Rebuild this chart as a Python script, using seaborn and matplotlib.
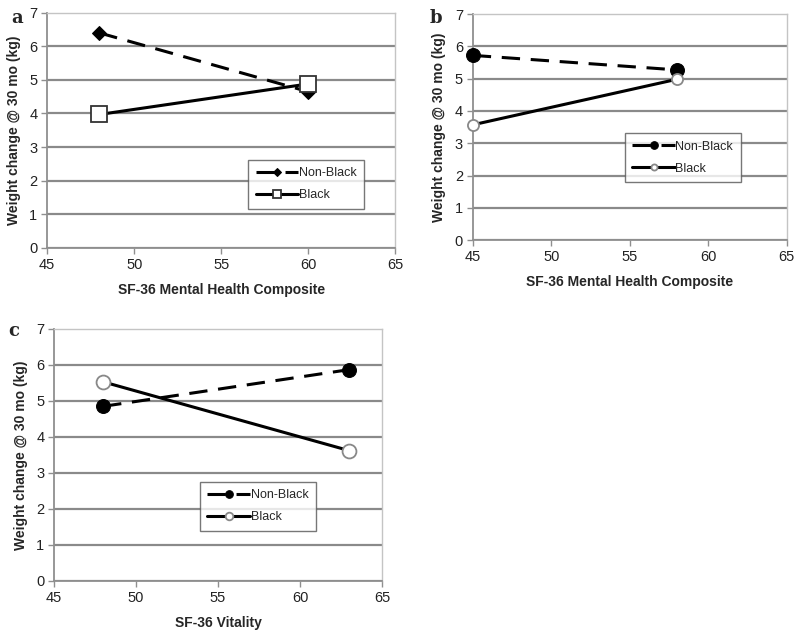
"""Weight change at 30 months by SF-36 score, Non-Black vs Black (panels a-c)."""

import matplotlib.pyplot as plt
import pandas as pd
import seaborn as sns

# panel a: SF-36 Mental Health Composite
a_x = [48, 60]
a_nonblack = [6.40, 4.65]
a_black = [3.97, 4.88]

# panel b: SF-36 Mental Health Composite
b_x = [45, 58]
b_nonblack = [5.72, 5.27]
b_black = [3.57, 4.98]

# panel c: SF-36 Vitality
c_x = [48, 63]
c_nonblack = [4.85, 5.87]
c_black = [5.53, 3.62]

groups = ["Non-Black", "Black"]
x_ticks = [45, 50, 55, 60, 65]
y_ticks = [0, 1, 2, 3, 4, 5, 6, 7]
y_label = "Weight change @ 30 mo (kg)"

sns.set_theme(style="white")
plt.rcParams["font.family"] = ["Liberation Sans", "DejaVu Sans"]

GRID = "#8a8a8a"
AXIS = "#8f8f8f"
BORDER = "#c4c4c4"


def make_df(x, nonblack, black):
    return pd.DataFrame({
        "x": x + x,
        "y": nonblack + black,
        "group": [groups[0]] * len(x) + [groups[1]] * len(x),
    })


def draw_panel(ax, df, xlabel, square, legend_anchor, open_size=10):
    nb = df[df["group"] == "Non-Black"]
    bl = df[df["group"] == "Black"]
    if square:
        nb_kw = dict(marker="D", markersize=7, markerfacecolor="black",
                     markeredgecolor="black")
        bl_kw = dict(marker="s", markersize=11, markerfacecolor="white",
                     markeredgecolor="#333333", markeredgewidth=1.3)
    else:
        nb_kw = dict(marker="o", markersize=10, markerfacecolor="black",
                     markeredgecolor="black")
        bl_kw = dict(marker="o", markersize=open_size, markerfacecolor="white",
                     markeredgecolor="#888888", markeredgewidth=1.3)

    sns.lineplot(data=nb, x="x", y="y", ax=ax, color="black", linewidth=2.2,
                 label="Non-Black", clip_on=False, zorder=3, **nb_kw)
    ax.lines[-1].set_dashes((6, 3.5))
    sns.lineplot(data=bl, x="x", y="y", ax=ax, color="black", linewidth=2.2,
                 label="Black", clip_on=False, zorder=3, **bl_kw)

    ax.set_xlim(45, 65)
    ax.set_ylim(0, 7)
    ax.set_xticks(x_ticks)
    ax.set_yticks(y_ticks)
    ax.yaxis.grid(True, color=GRID, linewidth=1.6)
    ax.get_ygridlines()[-1].set_visible(False)
    ax.set_axisbelow(True)
    for side in ["top", "right"]:
        ax.spines[side].set_color(BORDER)
        ax.spines[side].set_linewidth(1.0)
    for side in ["left", "bottom"]:
        ax.spines[side].set_color(AXIS)
        ax.spines[side].set_linewidth(1.3)
    ax.tick_params(axis="both", direction="out", length=4, width=1,
                   color=AXIS, labelsize=10.5, labelcolor="#222222", pad=3,
                   left=True, bottom=True)
    ax.set_xlabel(xlabel, fontsize=10, fontweight="bold", labelpad=8)
    ax.set_ylabel(y_label, fontsize=10, fontweight="bold", labelpad=6)

    leg = ax.legend(loc="upper left", bbox_to_anchor=legend_anchor,
                    borderaxespad=0, frameon=True, fancybox=False, fontsize=9,
                    handlelength=3.4, handletextpad=0.05, borderpad=0.6,
                    labelspacing=0.8, markerscale=0.55)
    leg.get_frame().set_edgecolor("#555555")
    leg.get_frame().set_linewidth(1.0)
    leg.set_zorder(5)


fig = plt.figure(figsize=(8, 6.37), dpi=100)
ax_a = fig.add_axes([0.059, 0.611, 0.435, 0.369])
ax_b = fig.add_axes([0.591, 0.623, 0.3925, 0.355])
ax_c = fig.add_axes([0.0675, 0.088, 0.41, 0.3956])

draw_panel(ax_a, make_df(a_x, a_nonblack, a_black),
           "SF-36 Mental Health Composite", True, (0.578, 0.374))
draw_panel(ax_b, make_df(b_x, b_nonblack, b_black),
           "SF-36 Mental Health Composite", False, (0.484, 0.473), open_size=8)
draw_panel(ax_c, make_df(c_x, c_nonblack, c_black),
           "SF-36 Vitality", False, (0.445, 0.393))

# panel letters
for letter, (fx, fy) in zip("abc", [(0.021, 0.972), (0.545, 0.972), (0.017, 0.481)]):
    fig.text(fx, fy, letter, fontsize=13, fontweight="bold",
             family="DejaVu Serif", va="center", ha="center")

fig.savefig("out.png", dpi=100)
plt.close(fig)
